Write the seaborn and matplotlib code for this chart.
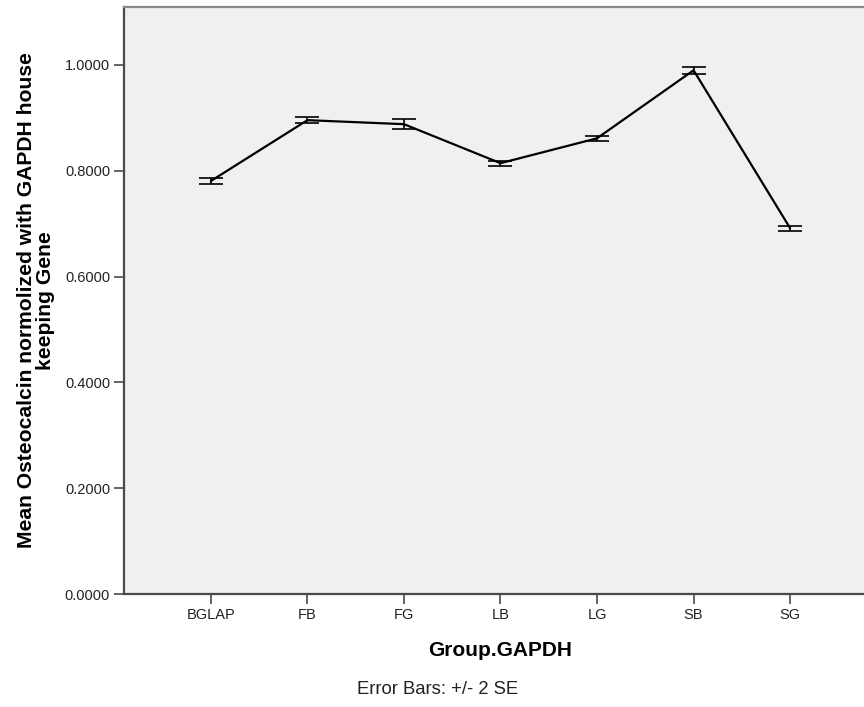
import matplotlib
matplotlib.use("Agg")
import matplotlib.pyplot as plt
from matplotlib.ticker import FormatStrFormatter
import seaborn as sns
import pandas as pd

# Group means of osteocalcin expression (normalized to GAPDH) and +/- 2 SE
groups = ["BGLAP", "FB", "FG", "LB", "LG", "SB", "SG"]
means = [0.7807, 0.8957, 0.8881, 0.8144, 0.8614, 0.9900, 0.6915]
err_2se = [0.0062, 0.0054, 0.0098, 0.0047, 0.0044, 0.0069, 0.0047]
y_ticks = [0.0, 0.2, 0.4, 0.6, 0.8, 1.0]

df = pd.DataFrame({"Group.GAPDH": groups, "mean": means, "err": err_2se})

sns.set_style("white")
plt.rcParams["font.family"] = ["Liberation Sans", "DejaVu Sans"]

fig = plt.figure(figsize=(8.64, 7.07), dpi=100)
ax = fig.add_axes([124 / 864, 113 / 707, 753 / 864, 587 / 707])
ax.set_facecolor("#f0f0f0")

sns.lineplot(data=df, x="Group.GAPDH", y="mean", ax=ax, color="black",
             linewidth=1.6, sort=False)
ax.errorbar(df["Group.GAPDH"], df["mean"], yerr=df["err"], fmt="none",
            ecolor="black", elinewidth=1.2, capsize=8.5, capthick=1.2)

ax.set_xlim(-0.9, 6.9)
ax.set_ylim(0, 1.1096)
ax.set_yticks(y_ticks)
ax.yaxis.set_major_formatter(FormatStrFormatter("%.4f"))

for side in ("left", "bottom"):
    ax.spines[side].set_color("#4a4a4a")
    ax.spines[side].set_linewidth(1.6)
ax.spines["top"].set_color("#888888")
ax.spines["top"].set_linewidth(1.6)
ax.spines["right"].set_visible(False)

ax.tick_params(axis="both", which="major", direction="out", length=7,
               width=1.2, color="#4a4a4a", labelsize=10.5,
               labelcolor="#222222", left=True, bottom=True, pad=3)

ax.set_xlabel("Group.GAPDH", fontsize=15, fontweight="bold", labelpad=13.5,
              color="black")
ax.set_ylabel("Mean Osteocalcin normolized with GAPDH house\nkeeping Gene",
              fontsize=15.2, fontweight="bold", linespacing=0.98,
              color="black")
ax.yaxis.set_label_coords(-0.092, 0.5)

fig.text(438 / 864, 1 - 690 / 707, "Error Bars: +/- 2 SE", fontsize=13.3,
         ha="center", va="center", color="#222222")

fig.savefig("out.png", dpi=100, facecolor="white")
